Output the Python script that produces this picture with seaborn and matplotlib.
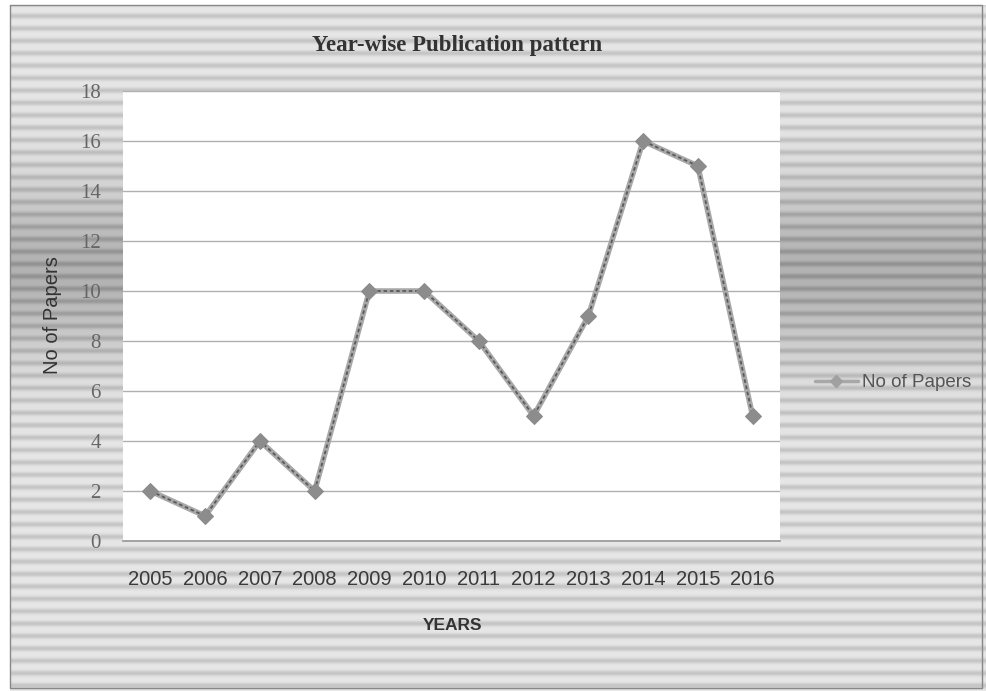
import numpy as np
import pandas as pd
import matplotlib
matplotlib.use("Agg")
import matplotlib.pyplot as plt
import seaborn as sns

years = ["2005", "2006", "2007", "2008", "2009", "2010", "2011", "2012", "2013", "2014", "2015", "2016"]
papers = [2, 1, 4, 2, 10, 10, 8, 5, 9, 16, 15, 5]
series_name = "No of Papers"

sns.set_theme(style="white")
plt.rcParams['font.family'] = ['Liberation Sans', 'DejaVu Sans']

W, H = 986, 691
fig = plt.figure(figsize=(W / 100, H / 100), dpi=100)

# striped background
bg = fig.add_axes([0, 0, 1, 1])
yy = np.arange(H)
base = 0.90 - 0.20 * np.exp(-((yy - 270) / 85.0) ** 2)
stripe = 0.13 * (0.5 + 0.5 * np.sin(2 * np.pi * yy / 12.4)) ** 2
col = np.clip(base - stripe, 0, 1)
img = np.repeat(col[:, None], W, axis=1)
img[:, :10] = 1.0
img[:5, :] = 1.0
bg.imshow(img, cmap="gray", vmin=0, vmax=1, aspect="auto", extent=[0, W, H, 0])
bg.plot([10, 982, 982, 10, 10], [5, 5, 688, 688, 5], color="#888888", lw=1)
bg.set_xlim(0, W)
bg.set_ylim(H, 0)
bg.axis("off")

# plot area
ax = fig.add_axes([123 / W, 1 - 541 / H, (780 - 123) / W, (541 - 91) / H])
ax.set_facecolor("white")
df = pd.DataFrame({"idx": np.arange(len(years)), "papers": papers})
sns.lineplot(data=df, x="idx", y="papers", ax=ax, color="#a8a8a8", lw=4, zorder=3)
sns.lineplot(data=df, x="idx", y="papers", ax=ax, color="#5a5a5a", lw=1.3,
             linestyle=(0, (2, 1.5)), marker="D", markersize=8,
             markerfacecolor="#8c8c8c", markeredgecolor="#8c8c8c", zorder=4)

ax.set_xlim(-0.5, len(years) - 0.5)
ax.set_ylim(0, 18)
ax.set_yticks(np.arange(0, 19, 2))
ax.grid(axis="y", color="#b0b0b0", lw=1)
ax.set_xticks(np.arange(len(years)))
ax.set_xticklabels(years, fontsize=14.5, color="#3a3a3a", family=["Liberation Sans"])
ax.set_xticks(np.arange(len(years) + 1) - 0.5, minor=True)
ax.tick_params(axis="x", which="major", length=0, pad=21)
ax.tick_params(axis="x", which="minor", length=5, color="#999999", direction="out")
ax.tick_params(axis="y", which="major", length=8, color="#999999", direction="out", pad=8)
for lab in ax.get_yticklabels():
    lab.set_family(["Liberation Serif"])
    lab.set_fontsize(15)
    lab.set_color("#666666")
for s in ["top", "right"]:
    ax.spines[s].set_visible(False)
ax.spines["left"].set_visible(False)
ax.spines["bottom"].set_color("#999999")
ax.set_xlabel("")
ax.set_ylabel("")

fig.text(457 / W, 1 - 46 / H, "Year-wise Publication pattern", ha="center", va="center",
         fontsize=16.5, fontweight="bold", family=["Liberation Serif"], color="#333333")
fig.text(453 / W, 1 - 625 / H, "YEARS", ha="center", va="center", fontsize=12.5,
         fontweight="bold", color="#333333")
fig.text(52 / W, 1 - 315 / H, "No of Papers", ha="center", va="center", fontsize=14.5,
         rotation=90, color="#333333")

# legend
bg.plot([815, 858], [381, 381], color="#a8a8a8", lw=2.5)
bg.plot([836], [381], marker="D", markersize=6, color="#a0a0a0")
bg.text(862, 382, series_name, ha="left", va="center", fontsize=13.5, color="#555555")

fig.savefig("out.png", dpi=100)
